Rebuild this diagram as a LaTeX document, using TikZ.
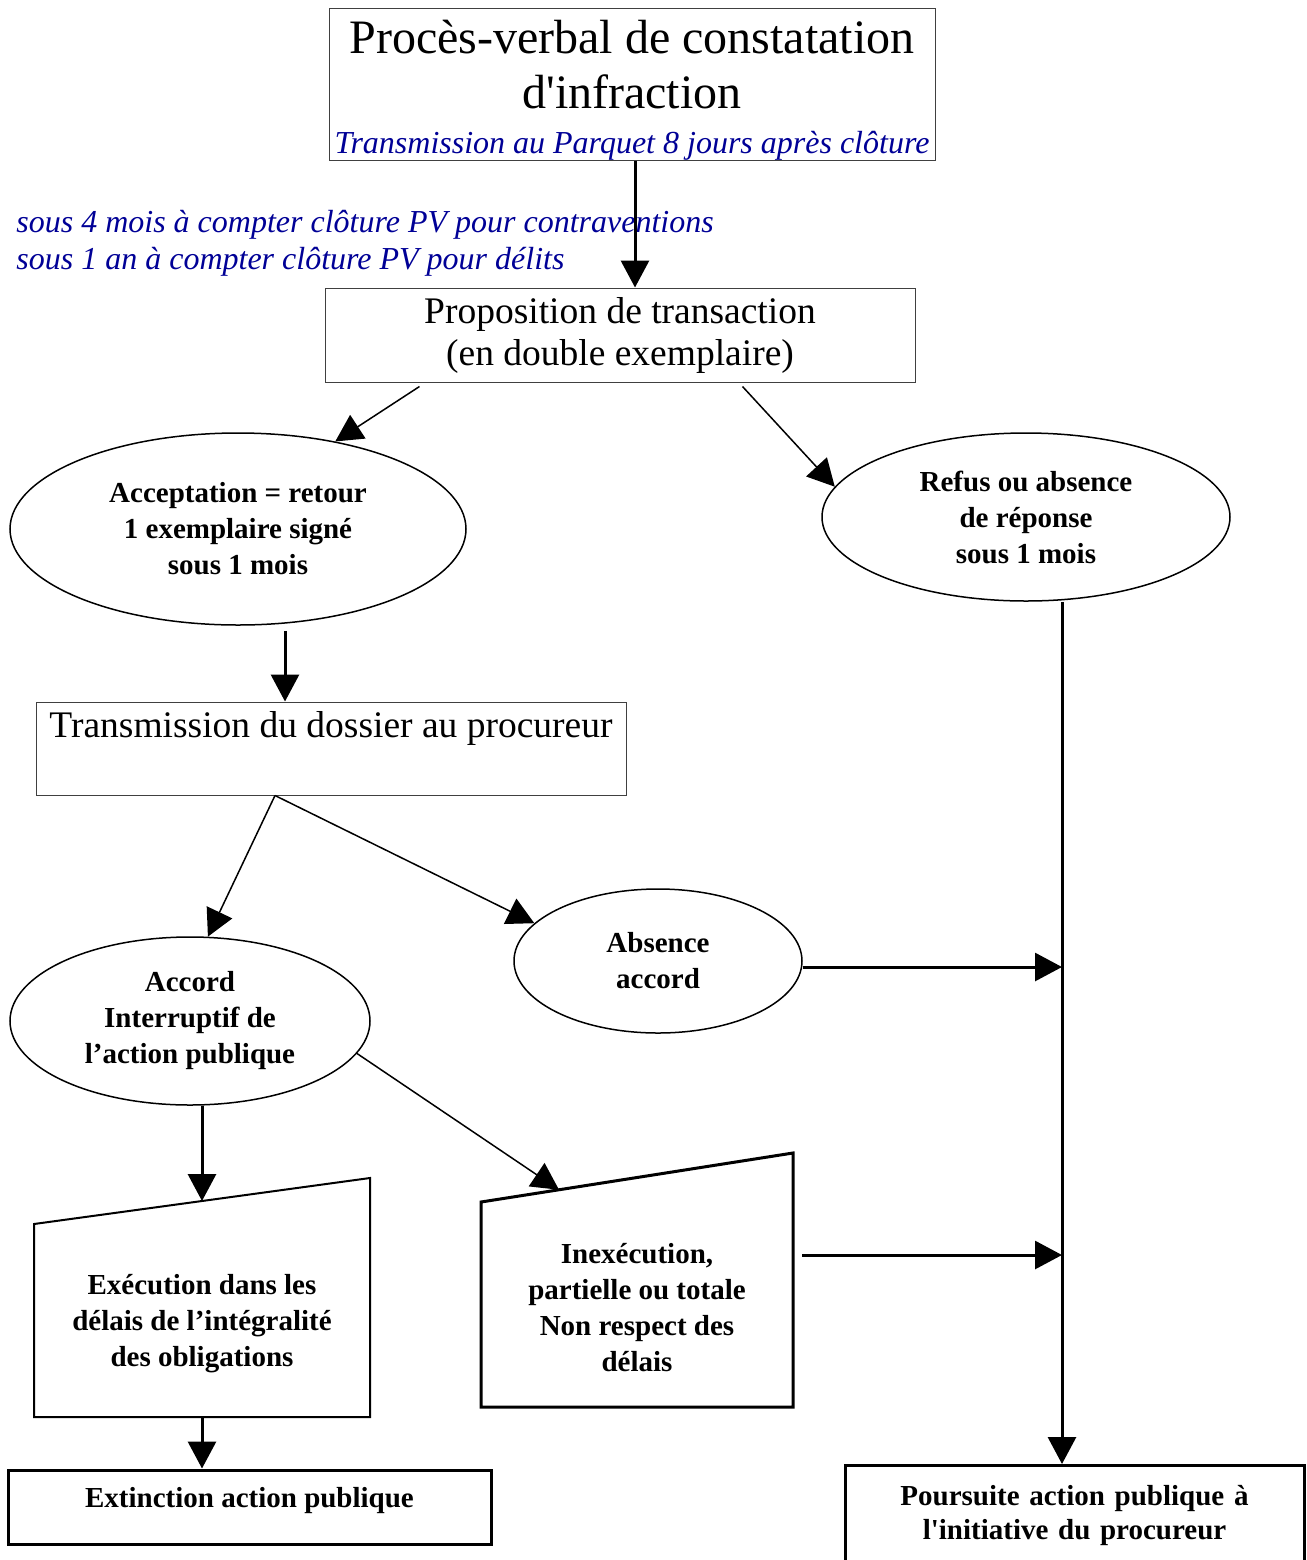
\documentclass[tikz,border=0pt]{standalone}
\usepackage{fontspec}
\setmainfont{Liberation Serif}
\usetikzlibrary{shapes.geometric,arrows.meta,calc}
\definecolor{pvblue}{RGB}{0,0,150}

\begin{document}
\begin{tikzpicture}[x=0.5pt,y=-0.5pt]
    \tikzset{
        mybox/.style = {rectangle, draw=black!75, line width=0.5pt, inner sep=0pt, align=center},
        myboxb/.style = {rectangle, draw=black, line width=1.5pt, inner sep=0pt, font=\fontsize{14.5}{17}\selectfont\bfseries},
        myell/.style = {ellipse, draw=black, line width=0.75pt, inner sep=0pt, align=center, font=\fontsize{14.5}{18}\selectfont\bfseries},
        myinput/.style = {rectangle, inner sep=0pt, outer sep=0pt, align=center, font=\fontsize{14.5}{18}\selectfont\bfseries},
        mynote/.style = {align=left, inner sep=0pt, text=pvblue, font=\fontsize{16}{18.5}\selectfont\itshape},
        edgea/.style = {line width=0.75pt, -{Triangle[length=13.5pt,width=14pt]}},
        edgeb/.style = {line width=1.5pt, -{Triangle[length=13.5pt,width=14pt]}},
    }
    \useasboundingbox (0,0) rectangle (1307,1560);
        \node[mybox, minimum width=303pt, minimum height=76pt, font=\fontsize{24}{27.5}\selectfont] at (632,84) (pv)
            {\rule{0pt}{22.5pt}Procès-verbal de constatation\\ d\textquotesingle infraction\\[-5pt]
             {\fontsize{16}{20}\selectfont\itshape\color{pvblue}Transmission au Parquet 8 jours après clôture}};
        \node[mynote, anchor=west] at (16,243.5) (delai)
            {sous 4 mois à compter clôture PV pour contraventions\\ sous 1 an à compter clôture PV pour délits};
        \node[mybox, minimum width=295pt, minimum height=47pt, font=\fontsize{18.75}{21}\selectfont] at (620,335) (prop)
            {Proposition de transaction\\ (en double exemplaire)};
        %
        \node[myell, minimum width=228pt, minimum height=96pt] at (238,529) (accept)
            {Acceptation = retour\\ 1 exemplaire signé\\ sous 1 mois};
        \node[myell, minimum width=204pt, minimum height=84pt] at (1026,517) (refus)
            {Refus ou absence\\ de réponse\\ sous 1 mois};
        \node[mybox, minimum width=295pt, minimum height=46.5pt, font=\fontsize{18.75}{21}\selectfont] at (331,748.5) (trans)
            {Transmission du dossier au procureur\\[3.5pt] ~};
        %
        \node[myell, minimum width=180pt, minimum height=84pt] at (190,1021) (accord)
            {Accord\\ Interruptif de\\ l’action publique};
        \node[myell, minimum width=144pt, minimum height=72pt] at (658,961) (absence)
            {Absence\\ accord};
        %
        \node[myinput, minimum width=168pt, minimum height=93pt] at (202,1324) (exec)
            {Exécution dans les\\ délais de l’intégralité\\ des obligations};
        \draw[line width=1pt] (exec.south west) -- ([yshift=3.5pt]exec.north west) -- ([yshift=26.5pt]exec.north east) -- (exec.south east) -- cycle;
        \node[myinput, minimum width=156pt, minimum height=99pt] at (637,1308) (inex)
            {Inexécution,\\ partielle ou totale\\ Non respect des\\ délais};
        \draw[line width=1.5pt] (inex.south west) -- ([yshift=3.5pt]inex.north west) -- ([yshift=28pt]inex.north east) -- (inex.south east) -- cycle;
        %
        \node[myboxb, minimum width=241.5pt, minimum height=37pt, text depth=10pt] at (249.5,1507) (ext)
            {Extinction action publique};
        \node[myboxb, align=center, text width=229.5pt, inner ysep=10pt, anchor=north] at (1074.5,1464) (pours)
            {Poursuite action publique à\\ l\textquotesingle initiative du procureur\\[20pt] ~};
        %
        \coordinate (pvout) at ([xshift=1.5pt]pv.south);
        \coordinate (accout) at ([xshift=23.5pt,yshift=-2.5pt]accept.south);
        \coordinate (bus) at ([xshift=18pt]refus.south);
        \coordinate (absout) at ([yshift=-3pt]absence.east);
        \coordinate (inexout) at ([xshift=4.5pt,yshift=26.5pt]inex.east);
        \coordinate (exectop) at ($([yshift=3.5pt]exec.north west)!0.5!([yshift=26.5pt]exec.north east)$);
        \coordinate (inextop) at ($([yshift=3.5pt]inex.north west)!0.25!([yshift=28pt]inex.north east)$);
        %
        \draw[edgeb] (pvout) -- (pvout |- prop.north);
        \draw[edgea] ([xshift=47.5pt,yshift=-2pt]prop.south west) -- (accept.42);
        \draw[edgea] ([xshift=209pt,yshift=-2pt]prop.south west) -- (refus.171);
        \draw[edgeb] (accout) -- (accout |- trans.north);
        %
        \draw[edgea] ([xshift=-28pt]trans.south) -- (accord.78);
        \draw[edgea] ([xshift=-28pt]trans.south) -- (absence.163);
        \draw[edgeb] (absout) -- (absout -| bus);
        \draw[edgeb] (bus) -- (bus |- pours.north);
        %
        \draw[edgeb] (exectop |- accord.south) -- (exectop);
        \draw[edgea] (accord.-11) -- (inextop);
        \draw[edgeb] (inexout) -- (inexout -| bus);
        \draw[edgeb] (exec.south) -- (exec.south |- ext.north);
\end{tikzpicture}
\end{document}
